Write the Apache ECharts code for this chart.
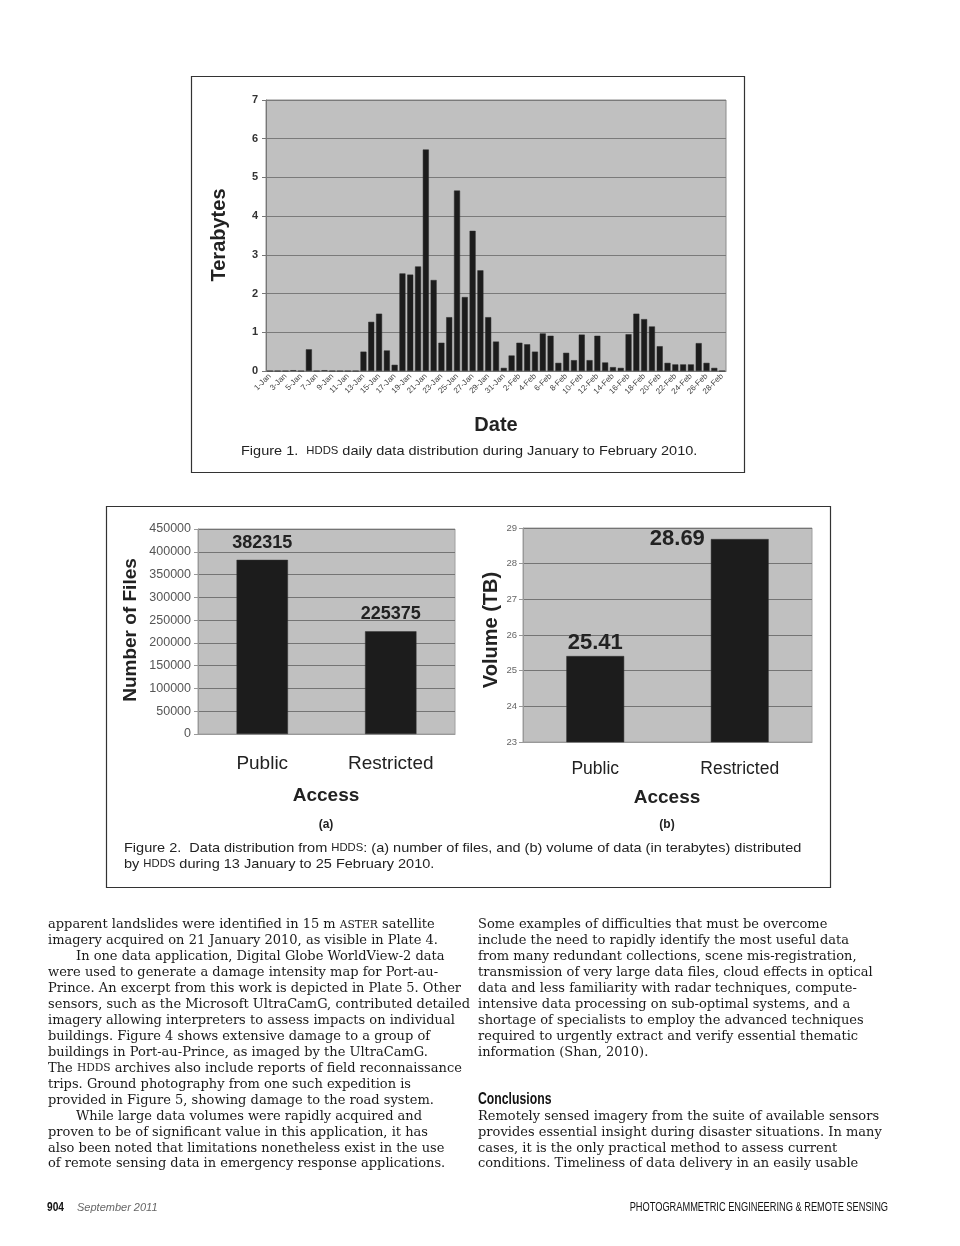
<!DOCTYPE html>
<html><head><meta charset="utf-8">
<script src="https://cdn.jsdelivr.net/npm/echarts@6/dist/echarts.min.js"></script>
<style>html,body{margin:0;padding:0;background:#fff}#c{width:960px;height:1246px}</style>
</head><body><div id="c"></div>
<script>
// ---------- DATA ----------
const dates = ['1-Jan','2-Jan','3-Jan','4-Jan','5-Jan','6-Jan','7-Jan','8-Jan','9-Jan','10-Jan','11-Jan','12-Jan','13-Jan','14-Jan','15-Jan','16-Jan','17-Jan','18-Jan','19-Jan','20-Jan','21-Jan','22-Jan','23-Jan','24-Jan','25-Jan','26-Jan','27-Jan','28-Jan','29-Jan','30-Jan','31-Jan',
'1-Feb','2-Feb','3-Feb','4-Feb','5-Feb','6-Feb','7-Feb','8-Feb','9-Feb','10-Feb','11-Feb','12-Feb','13-Feb','14-Feb','15-Feb','16-Feb','17-Feb','18-Feb','19-Feb','20-Feb','21-Feb','22-Feb','23-Feb','24-Feb','25-Feb','26-Feb','27-Feb','28-Feb'];
const terabytes = [0,0,0,0.02,0,0.56,0,0.02,0,0,0,0,
0.50,1.27,1.48,0.53,0.16,2.52,2.49,2.70,5.72,2.35,0.73,1.39,4.66,1.91,3.62,2.60,1.39,0.76,0.08,
0.40,0.73,0.69,0.50,0.97,0.91,0.21,0.47,0.28,0.94,0.28,0.91,0.22,0.10,0.08,0.95,1.48,1.34,1.15,0.64,0.21,0.17,0.17,0.17,0.72,0.21,0.08,0];
const accessCats = ['Public','Restricted'];
const fileCounts = [382315, 225375];
const volumesTB = [25.41, 28.69];

const fig1Caption = 'Figure 1.  {sc|HDDS} daily data distribution during January to February 2010.';
const fig2Caption = [
 'Figure 2.  Data distribution from {sc|HDDS}: (a) number of files, and (b) volume of data (in terabytes) distributed',
 'by {sc|HDDS} during 13 January to 25 February 2010.'
];
const leftColumn = [
 'apparent landslides were identified in 15 m {sc|ASTER} satellite',
 'imagery acquired on 21 January 2010, as visible in Plate 4.',
 '\tIn one data application, Digital Globe WorldView-2 data',
 'were used to generate a damage intensity map for Port-au-',
 'Prince. An excerpt from this work is depicted in Plate 5. Other',
 'sensors, such as the Microsoft UltraCamG, contributed detailed',
 'imagery allowing interpreters to assess impacts on individual',
 'buildings. Figure 4 shows extensive damage to a group of',
 'buildings in Port-au-Prince, as imaged by the UltraCamG.',
 'The {sc|HDDS} archives also include reports of field reconnaissance',
 'trips. Ground photography from one such expedition is',
 'provided in Figure 5, showing damage to the road system.',
 '\tWhile large data volumes were rapidly acquired and',
 'proven to be of significant value in this application, it has',
 'also been noted that limitations nonetheless exist in the use',
 'of remote sensing data in emergency response applications.'
];
const rightColumn = [
 'Some examples of difficulties that must be overcome',
 'include the need to rapidly identify the most useful data',
 'from many redundant collections, scene mis-registration,',
 'transmission of very large data files, cloud effects in optical',
 'data and less familiarity with radar techniques, compute-',
 'intensive data processing on sub-optimal systems, and a',
 'shortage of specialists to employ the advanced techniques',
 'required to urgently extract and verify essential thematic',
 'information (Shan, 2010).'
];
const conclusionsHead = 'Conclusions';
const conclusionsText = [
 'Remotely sensed imagery from the suite of available sensors',
 'provides essential insight during disaster situations. In many',
 'cases, it is the only practical method to assess current',
 'conditions. Timeliness of data delivery in an easily usable'
];

// ---------- HELPERS ----------
const SANS = '"Liberation Sans", Arial, sans-serif';
const SERIF = '"DejaVu Serif", serif';
function T(x, y, text, o) {
  o = o || {};
  const align = o.align || 'left';
  return {
    type: 'text', x: x, y: y, rotation: o.rot || 0, scaleX: o.sx || 1, silent: true,
    style: {
      text: text, fontSize: o.size || 12, fontFamily: o.family || SANS,
      fontWeight: o.weight || 'normal', fontStyle: o.fstyle || 'normal',
      fill: o.color || '#222', align: align, textAlign: align,
      verticalAlign: 'middle', textVerticalAlign: 'middle', rich: o.rich
    }
  };
}
const capRich = { sc: { fontSize: 10.5, fontFamily: SANS, fill: '#222' } };
const bodyRich = { sc: { fontSize: 10.2, fontFamily: SERIF, fill: '#1a1a1a' } };
const BODY = {size:12.4, sx:1.05, family:SERIF, color:'#1a1a1a', rich:bodyRich};
const CAP = {size:13.5, sx:1.075, rich:capRich};

const graphics = [];
// figure boxes
graphics.push({type:'rect', silent:true, shape:{x:191.5,y:76.5,width:553,height:396}, style:{fill:'none',stroke:'#333',lineWidth:1.2}});
graphics.push({type:'rect', silent:true, shape:{x:106.5,y:506.5,width:724,height:381}, style:{fill:'none',stroke:'#333',lineWidth:1.2}});
// axis titles fig 1
graphics.push(T(219.5, 235, 'Terabytes', {size:20, weight:'bold', align:'center', rot:Math.PI/2}));
graphics.push(T(496, 425, 'Date', {size:20, weight:'bold', align:'center'}));
graphics.push(T(241, 451, fig1Caption, CAP));
// fig 2 titles
graphics.push(T(131, 630, 'Number of Files', {size:19, weight:'bold', align:'center', rot:Math.PI/2}));
graphics.push(T(491, 630, 'Volume (TB)', {size:20, weight:'bold', align:'center', rot:Math.PI/2}));
graphics.push(T(326, 796, 'Access', {size:19, weight:'bold', align:'center'}));
graphics.push(T(667, 798, 'Access', {size:19, weight:'bold', align:'center'}));
graphics.push(T(326, 825, '(a)', {size:12, weight:'bold', align:'center'}));
graphics.push(T(667, 825, '(b)', {size:12, weight:'bold', align:'center'}));
graphics.push(T(124, 848, fig2Caption[0], CAP));
graphics.push(T(124, 864, fig2Caption[1], CAP));
// body text
const LINE0 = 925, PITCH = 15.95;
leftColumn.forEach(function (s, k) {
  const ind = s.charAt(0) === '\t';
  graphics.push(T(48 + (ind ? 28 : 0), LINE0 + PITCH * k, ind ? s.slice(1) : s, BODY));
});
rightColumn.forEach(function (s, k) {
  graphics.push(T(478, LINE0 + PITCH * k, s, BODY));
});
graphics.push(T(478, LINE0 + PITCH * 11 - 1, conclusionsHead, {size:17, weight:'bold', sx:0.72, color:'#111'}));
conclusionsText.forEach(function (s, k) {
  graphics.push(T(478, LINE0 + PITCH * (12 + k), s, BODY));
});
// footer
graphics.push(T(47, 1208, '904', {size:12, weight:'bold', sx:0.85, color:'#111'}));
graphics.push(T(77, 1208, 'September 2011', {size:11, fstyle:'italic', color:'#666'}));
graphics.push(T(888, 1208, 'PHOTOGRAMMETRIC ENGINEERING & REMOTE SENSING', {size:12.5, align:'right', sx:0.74, color:'#111'}));

// ---------- CHART ----------
const plotBg = '#c0c0c0';
const chart = echarts.init(document.getElementById('c'), null, {renderer:'canvas'});
chart.setOption({
  animation: false,
  backgroundColor: '#fff',
  textStyle: { fontFamily: SANS },
  grid: [
    {left:266, top:100, width:460, height:271, show:true, backgroundColor:plotBg, borderColor:'#8c8c8c', borderWidth:1, containLabel:false},
    {left:198, top:529, width:257, height:205, show:true, backgroundColor:plotBg, borderColor:'#a0a0a0', borderWidth:1, containLabel:false},
    {left:523, top:528, width:289, height:214, show:true, backgroundColor:plotBg, borderColor:'#a0a0a0', borderWidth:1, containLabel:false}
  ],
  xAxis: [
    {type:'category', gridIndex:0, data:dates, boundaryGap:true,
     axisLine:{lineStyle:{color:'#777'}},
     axisTick:{interval:1, length:4, lineStyle:{color:'#777'}},
     axisLabel:{interval:1, rotate:45, fontSize:8, color:'#444', margin:4}},
    {type:'category', gridIndex:1, data:accessCats,
     axisLine:{lineStyle:{color:'#999'}},
     axisTick:{length:7, lineStyle:{color:'#888'}},
     axisLabel:{fontSize:19, color:'#222', margin:20}},
    {type:'category', gridIndex:2, data:accessCats,
     axisLine:{lineStyle:{color:'#999'}},
     axisTick:{length:6, lineStyle:{color:'#888'}},
     axisLabel:{fontSize:17.5, color:'#222', margin:18}}
  ],
  yAxis: [
    {type:'value', gridIndex:0, min:0, max:7, interval:1,
     axisLine:{show:true, lineStyle:{color:'#777'}},
     axisTick:{show:true, length:4, lineStyle:{color:'#777'}},
     axisLabel:{fontSize:11, fontWeight:'bold', color:'#333', margin:8},
     splitLine:{lineStyle:{color:'#7a7a7a', width:1}}},
    {type:'value', gridIndex:1, min:0, max:450000, interval:50000,
     axisLine:{show:true, lineStyle:{color:'#999'}},
     axisTick:{show:true, length:4, lineStyle:{color:'#999'}},
     axisLabel:{fontSize:12.5, color:'#555', margin:7, formatter:function (v) { return String(v); }},
     splitLine:{lineStyle:{color:'#747474', width:1}}},
    {type:'value', gridIndex:2, min:23, max:29, interval:1,
     axisLine:{show:true, lineStyle:{color:'#999'}},
     axisTick:{show:true, length:4, lineStyle:{color:'#999'}},
     axisLabel:{fontSize:9.5, color:'#666', margin:6},
     splitLine:{lineStyle:{color:'#747474', width:1}}}
  ],
  series: [
    {type:'bar', xAxisIndex:0, yAxisIndex:0, data:terabytes, barCategoryGap:'23%',
     itemStyle:{color:'#1c1c1c', borderColor:'#2a2a2a', borderWidth:0.5}},
    {type:'bar', xAxisIndex:1, yAxisIndex:1, data:fileCounts, barWidth:'40%',
     itemStyle:{color:'#1c1c1c', borderColor:'#333', borderWidth:0.5},
     label:{show:true, position:'top', distance:8, fontSize:18, fontWeight:'bold', color:'#222'}},
    {type:'bar', xAxisIndex:2, yAxisIndex:2, barWidth:'40%', clip:true,
     data: volumesTB.map(function (v, i) {
       return i === 1 ? {value:v, label:{position:[-6, 0], align:'right', verticalAlign:'middle'}} : v;
     }),
     itemStyle:{color:'#1c1c1c', borderColor:'#333', borderWidth:0.5},
     label:{show:true, position:'top', distance:2, fontSize:22, fontWeight:'bold', color:'#222'}}
  ],
  graphic: graphics
});
</script>
</body></html>
